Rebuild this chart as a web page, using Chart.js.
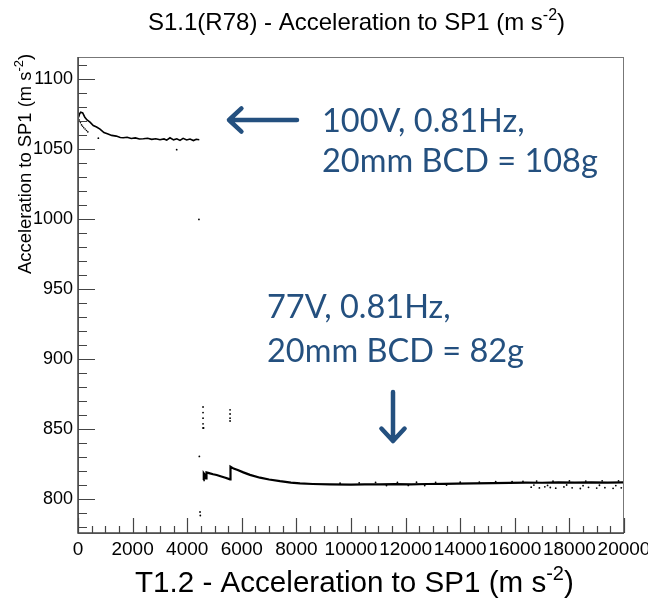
<!DOCTYPE html>
<html>
<head>
<meta charset="utf-8">
<script src="https://cdn.jsdelivr.net/npm/chart.js@4"></script>
<style>
  body { margin: 0; background: #fff; }
  canvas { display: block; }
</style>
</head>
<body>
<canvas id="accChart" width="648" height="600"></canvas>
<script>
// axis ticks
const xTicks = [0, 2000, 4000, 6000, 8000, 10000, 12000, 14000, 16000, 18000, 20000];
const yTicks = [800, 850, 900, 950, 1000, 1050, 1100];

// 100V run (upper branch)
const upperX = [20, 60, 100, 172, 250, 330, 440, 560, 680, 806, 950, 1100, 1234, 1400, 1550, 1660, 1800, 1950, 2100, 2250, 2393, 2550, 2700, 2850, 3004, 3150, 3250, 3370, 3500, 3620, 3736, 3850, 3980, 4103, 4230, 4330, 4443];
const upperY = [1073, 1075.5, 1076.5, 1076, 1073, 1071, 1069.5, 1067, 1066, 1064.5, 1062, 1061, 1060, 1059.5, 1058.5, 1058.3, 1058.7, 1057.8, 1058.2, 1057.4, 1057.6, 1058, 1057.2, 1057.6, 1056.9, 1057.5, 1056.6, 1058.3, 1056.8, 1057.6, 1056.4, 1057.9, 1056.7, 1057.4, 1056.3, 1057.2, 1056.9];
const upperBranchX = [50, 90, 130, 170, 210, 260, 310, 360];
const upperBranchY = [1071, 1069, 1067.5, 1066.5, 1065.5, 1064.5, 1063.5, 1062.5];

// 77V run (lower branch)
const lowerX = [4590, 4600, 4615, 4650, 4689, 4700, 4713, 4800, 4950, 5080, 5250, 5400, 5568, 5580, 5592, 5700, 5850, 6056, 6300, 6667, 7000, 7400, 7800, 8132, 8600, 9230, 10000, 10500, 11062, 11600, 12200, 12800, 13400, 13870, 14500, 15200, 15800, 16400, 17000, 17600, 18200, 18800, 19400, 20000];
const lowerY = [813.8, 816, 818.6, 817.5, 815, 817, 819.3, 818.8, 818, 817.4, 816.4, 815.5, 814.3, 818, 823.4, 822, 821, 819.3, 817.5, 815.5, 814.2, 813, 812, 811.4, 811, 810.7, 810.6, 810.8, 810.7, 810.9, 810.8, 811, 811.1, 811.2, 811.5, 811.6, 811.8, 812, 811.9, 812.1, 812, 812.2, 812, 812.1];
const noiseX = [9600, 10300, 10900, 11300, 11700, 12100, 12400, 12700, 13100, 13500, 14000, 14700, 15300, 15900, 16300, 16600, 16900, 17100, 17300, 17500, 17800, 18100, 18400, 18700, 19000, 19300, 19600, 19900, 16700, 17200, 17900, 18500, 19100, 19700, 16800, 17400, 18000, 18600, 19200, 19800];
const noiseY = [811.6, 811.8, 812.1, 809.9, 812.2, 810.0, 812.3, 809.9, 812.2, 810.2, 812.3, 812.4, 812.6, 812.7, 812.9, 808.7, 808.2, 809.0, 808.5, 808.0, 808.9, 808.3, 807.8, 808.6, 808.1, 808.4, 807.9, 808.3, 810.2, 810.0, 810.3, 809.8, 810.1, 809.9, 813.1, 813.0, 813.2, 813.1, 813.3, 813.2];

// stray points
const dotsX = [4445, 4470, 4480, 4430, 3615, 745, 4580, 4580, 4580, 4580, 4580, 4600, 5570, 5570, 5570, 5570];
const dotsY = [830.7, 791, 788.5, 1000, 1049.8, 1058, 866, 862, 858, 854, 851, 851, 864, 861, 858, 856];

const toPoints = (xs, ys) => xs.map((v, i) => ({ x: v, y: ys[i] }));

const FONT = '"Liberation Sans", Arial, sans-serif';
const BLUE = '#24507f';

// text with a superscript part
function supText(ctx, x, y, base, sup, tail, size) {
    ctx.font = size + 'px ' + FONT;
    ctx.fillText(base, x, y);
    let w = ctx.measureText(base).width;
    const small = Math.round(size * 0.68);
    ctx.font = small + 'px ' + FONT;
    ctx.fillText(sup, x + w, y - size * 0.42);
    w += ctx.measureText(sup).width;
    ctx.font = size + 'px ' + FONT;
    ctx.fillText(tail, x + w, y);
}

function arrow(ctx, x1, y1, x2, y2) {
    const ang = Math.atan2(y2 - y1, x2 - x1);
    const len = 17;
    ctx.beginPath();
    ctx.moveTo(x1, y1);
    ctx.lineTo(x2, y2);
    ctx.moveTo(x2 - len * Math.cos(ang - 0.75), y2 - len * Math.sin(ang - 0.75));
    ctx.lineTo(x2, y2);
    ctx.lineTo(x2 - len * Math.cos(ang + 0.75), y2 - len * Math.sin(ang + 0.75));
    ctx.stroke();
}

// ROOT style frame, inward ticks, titles and notes
const rootDecor = {
    id: 'rootDecor',
    afterDraw(chart) {
        const { ctx, chartArea: a, scales: { x, y } } = chart;
        ctx.save();

        ctx.strokeStyle = '#777';
        ctx.lineWidth = 1;
        ctx.strokeRect(a.left + 0.5, a.top + 0.5, a.right - a.left - 1, a.bottom - a.top);

        ctx.strokeStyle = '#444';
        ctx.lineWidth = 1.5;
        ctx.beginPath();
        ctx.moveTo(a.left, a.top);
        ctx.lineTo(a.left, a.bottom);
        ctx.lineTo(a.right, a.bottom);
        ctx.stroke();

        ctx.lineWidth = 1.2;
        ctx.beginPath();
        for (let v = x.min; v <= x.max; v += 500) {
            const px = Math.round(x.getPixelForValue(v)) + 0.5;
            const len = v % 2000 === 0 ? 15 : 7;
            ctx.moveTo(px, a.bottom);
            ctx.lineTo(px, a.bottom - len);
        }
        for (let v = Math.ceil(y.min / 10) * 10; v <= y.max; v += 10) {
            const py = Math.round(y.getPixelForValue(v)) + 0.5;
            const len = v % 50 === 0 ? 17 : 9;
            ctx.moveTo(a.left, py);
            ctx.lineTo(a.left + len, py);
        }
        ctx.stroke();

        ctx.fillStyle = '#000';
        ctx.textBaseline = 'alphabetic';
        ctx.textAlign = 'left';
        supText(ctx, 148, 30, 'S1.1(R78) - Acceleration to SP1 (m s', '-2', ')', 24);
        supText(ctx, 135, 592, 'T1.2 - Acceleration to SP1 (m s', '-2', ')', 29.6);

        ctx.save();
        ctx.translate(31, 274);
        ctx.rotate(-Math.PI / 2);
        supText(ctx, 0, 0, 'Acceleration to SP1 (m s', '-2', ')', 18.4);
        ctx.restore();

        ctx.fillStyle = BLUE;
        ctx.font = '32.5px Lato, "Open Sans", sans-serif';
        ctx.fillText('100V, 0.81Hz,', 322, 132);
        ctx.fillText('20mm BCD = 108g', 322, 172);
        ctx.fillText('77V, 0.81Hz,', 267, 318);
        ctx.fillText('20mm BCD = 82g', 267, 362);

        ctx.strokeStyle = BLUE;
        ctx.lineWidth = 4.5;
        ctx.lineCap = 'round';
        ctx.lineJoin = 'round';
        arrow(ctx, 297, 120, 229, 120);
        arrow(ctx, 393, 392, 393, 441);

        ctx.restore();
    }
};

new Chart(document.getElementById('accChart'), {
    type: 'scatter',
    data: {
        datasets: [
            {
                label: '100V',
                data: toPoints(upperX, upperY),
                showLine: true,
                borderColor: '#000',
                borderWidth: 1.6,
                pointRadius: 0,
                tension: 0
            },
            {
                label: '100V branch',
                data: toPoints(upperBranchX, upperBranchY),
                backgroundColor: '#000',
                pointRadius: 0.8,
                pointBorderWidth: 0
            },
            {
                label: '77V',
                data: toPoints(lowerX, lowerY),
                showLine: true,
                borderColor: '#000',
                borderWidth: 2.2,
                pointRadius: 0,
                tension: 0
            },
            {
                label: '77V noise',
                data: toPoints(noiseX, noiseY),
                backgroundColor: '#000',
                pointRadius: 0.9,
                pointBorderWidth: 0
            },
            {
                label: 'stray',
                data: toPoints(dotsX, dotsY),
                backgroundColor: '#000',
                pointRadius: 0.9,
                pointBorderWidth: 0
            }
        ]
    },
    options: {
        responsive: false,
        animation: false,
        layout: { padding: { left: 0, top: 57, right: 24, bottom: 0 } },
        plugins: {
            legend: { display: false },
            title: { display: false },
            tooltip: { enabled: false }
        },
        scales: {
            x: {
                type: 'linear',
                min: 0,
                max: 20000,
                afterBuildTicks: s => { s.ticks = xTicks.map(v => ({ value: v })); },
                afterFit: s => {
                    s.height = 67;
                    s.paddingLeft = 0;
                    s.paddingRight = 0;
                },
                grid: { display: false, drawTicks: false },
                border: { display: false },
                ticks: {
                    color: '#000',
                    padding: 5,
                    maxRotation: 0,
                    autoSkip: false,
                    font: { family: FONT, size: 19 },
                    callback: v => String(v)
                }
            },
            y: {
                type: 'linear',
                min: 776,
                max: 1116,
                afterBuildTicks: s => { s.ticks = yTicks.map(v => ({ value: v })); },
                afterFit: s => {
                    s.width = 78;
                    s.paddingTop = 0;
                    s.paddingBottom = 0;
                },
                grid: { display: false, drawTicks: false },
                border: { display: false },
                ticks: {
                    color: '#000',
                    padding: 5,
                    autoSkip: false,
                    font: { family: FONT, size: 18 },
                    callback: v => String(v)
                }
            }
        }
    },
    plugins: [rootDecor]
});
</script>
</body>
</html>
